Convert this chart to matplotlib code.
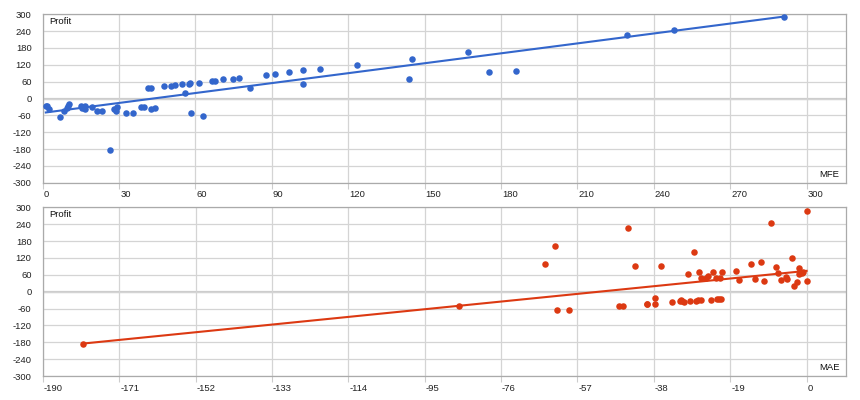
import numpy as np
import matplotlib
matplotlib.use('Agg')
from matplotlib import pyplot as plt

# MFE vs profit (top chart)
mfe = [1.2, 1.8, 2.5, 6.8, 8.4, 9.4, 10.1, 10.5, 14.9, 15.3, 16.7, 16.6, 19.5, 21.2, 23.2,
       26.4, 28.1, 28.8, 29.1, 32.7, 35.3, 38.5, 39.8, 41.2, 42.5, 42.4, 44.0, 47.5, 50.4,
       51.8, 54.7, 57.3, 57.9, 56.0, 58.2, 61.3, 63.0, 66.5, 67.8, 70.7, 74.9, 77.0, 81.5,
       87.6, 91.2, 96.6, 102.4, 102.1, 108.9, 123.6, 143.9, 145.2, 167.2, 175.4, 186.0,
       229.4, 248.0, 291.0]
mfe_profit = [-26, -28, -38, -66, -44, -34, -26, -20, -28, -34, -38, -28, -32, -43, -44,
              -184, -36, -44, -31, -51, -50, -31, -31, 38, 39, -36, -33, 44, 46,
              48, 51, 53, 55, 21, -50, 57, -63, 63, 63, 68, 71, 73, 37,
              84, 88, 94, 100, 50, 106, 120, 70, 141, 164, 94, 99,
              227, 245, 290]

# MAE vs profit (bottom chart)
mae = [-179.9, -86.4, -65.0, -62.5, -62.0, -59.1, -46.7, -45.6, -44.4, -42.8, -39.8, -39.6,
       -37.8, -37.8, -36.2, -33.4, -31.6, -31.3, -31.0, -30.4, -29.6, -28.9, -28.1, -27.6,
       -26.9, -26.8, -26.3, -26.3, -25.0, -24.6, -23.8, -23.4, -22.5, -22.3, -21.8, -21.5,
       -21.3, -21.0, -17.6, -16.8, -13.8, -12.8, -11.4, -10.5, -8.8, -7.7, -7.2, -6.4,
       -5.1, -4.8, -3.7, -3.1, -2.3, -1.8, -1.8, -1.2, -0.8, 0.0, 0.0]
mae_profit = [-185, -51, 97, 162, -66, -64, -52, -52, 225, 92, -45, -45,
              -21, -43, 92, -38, -35, -31, -35, -36, 62, -35, 141, -32,
              -31, 71, -31, 48, 47, 57, -28, 71, 50, -26, -26, 50,
              -26, 70, 72, 43, 98, 45, 104, 38, 244, 86, 66, 43,
              52, 46, 120, 20, 36, 83, 64, 66, 69, 287, 37]

yticks = [-300, -240, -180, -120, -60, 0, 60, 120, 180, 240, 300]
mfe_ticks = [0, 30, 60, 90, 120, 150, 180, 210, 240, 270, 300]
mae_ticks = [-190, -171, -152, -133, -114, -95, -76, -57, -38, -19, 0]

plt.rcParams['font.family'] = ['Liberation Sans', 'DejaVu Sans']
plt.rcParams['font.size'] = 6.8
plt.rcParams['axes.unicode_minus'] = False

fig = plt.figure(figsize=(8.6, 4.0), dpi=100)
ax1 = fig.add_axes([0.0497, 0.5433, 0.934, 0.4209])
ax2 = fig.add_axes([0.0497, 0.06, 0.934, 0.4218])


def style(ax, x, y, color, xticks, xlim, xname):
    ax.set_ylim(-300, 300)
    ax.set_xlim(*xlim)
    ax.set_yticks(yticks)
    ax.set_yticklabels([str(t) for t in yticks])
    ax.set_xticks(xticks)
    ax.set_xticklabels([str(t) for t in xticks], ha='left')
    ax.grid(True, color='#d4d4d4', lw=0.9, zorder=0)
    ax.axhline(0, color='#cccccc', lw=1.6, zorder=1)
    for s in ax.spines.values():
        s.set_color('#aaaaaa')
        s.set_linewidth(0.9)
    ax.tick_params(axis='y', length=0, pad=8, colors='#222222')
    ax.tick_params(axis='x', length=4, pad=1.5, colors='#222222', color='#cccccc')
    for lbl in ax.get_xticklabels():
        lbl.set_transform(lbl.get_transform() + matplotlib.transforms.ScaledTranslation(1/100, 0, fig.dpi_scale_trans))
    ax.scatter(x, y, s=22, color=color, zorder=3, linewidths=0)
    # linear trendline
    k, b = np.polyfit(x, y, 1)
    xs = np.array([min(x), max(x)])
    ax.plot(xs, k * xs + b, color=color, lw=1.5, zorder=2)
    ax.text(0.008, 0.955, 'Profit', transform=ax.transAxes, ha='left', va='center', color='#111111')
    ax.text(0.992, 0.05, xname, transform=ax.transAxes, ha='right', va='center', color='#111111')


style(ax1, mfe, mfe_profit, '#3366cc', mfe_ticks, (0, 315.5), 'MFE')
style(ax2, mae, mae_profit, '#dc3912', mae_ticks, (-190, 9.8), 'MAE')

fig.savefig('out.png', dpi=100)
